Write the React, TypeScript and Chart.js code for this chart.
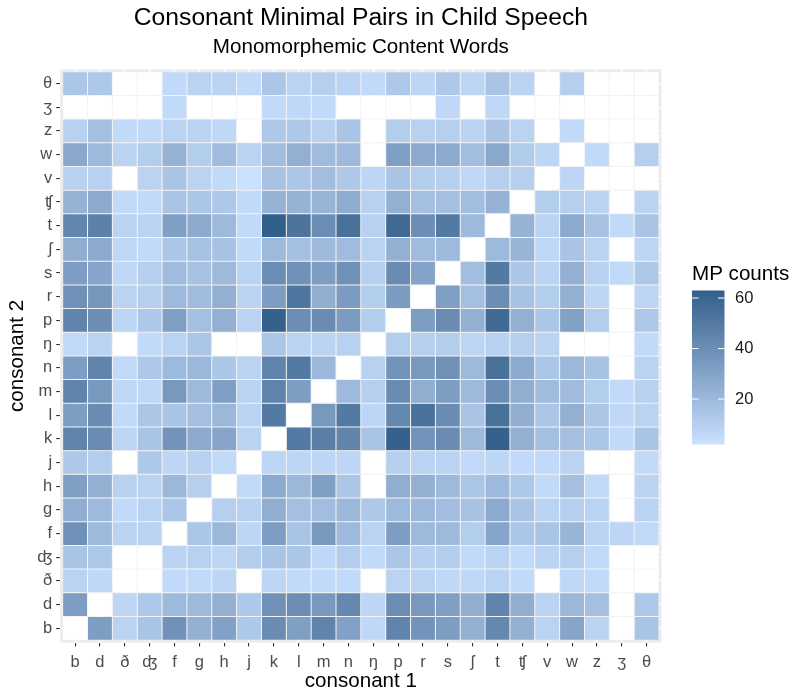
import React, { useEffect, useRef } from "react";
import { Chart, registerables } from "chart.js";

Chart.register(...registerables);

// Consonant order (consonant 1 on x, consonant 2 on y, bottom to top)
const consonants = ["b", "d", "ð", "ʤ", "f", "g", "h", "j", "k", "l", "m", "n", "ŋ", "p", "r", "s", "ʃ", "t", "ʧ", "v", "w", "z", "ʒ", "θ"];

const TITLE = "Consonant Minimal Pairs in Child Speech";
const SUBTITLE = "Monomorphemic Content Words";
const X_TITLE = "consonant 1";
const Y_TITLE = "consonant 2";
const LEGEND_TITLE = "MP counts";
const legendTicks = [20, 40, 60];

// One array per consonant 2 (row); values follow the consonant 1 order above. null = no pairs
const row_b = [null, 33, 8, 15, 38, 24, 31, 13, 41, 32, 45, 31, 6, 45, 37, 33, 24, 43, 24, 8, 29, 8, null, 15];
const row_d = [33, null, 7, 13, 20, 20, 24, 13, 38, 40, 35, 43, 7, 40, 35, 32, 25, 45, 25, 8, 21, 17, null, 13];
const row_dh = [8, 6, null, null, 5, 5, 7, null, 7, 5, 5, 5, null, 8, 8, 6, 6, 8, 5, null, 6, 5, null, null];
const row_dzh = [15, 13, null, null, 8, 9, 7, 11, 15, 14, 6, 11, 5, 14, 10, 11, 5, 8, 5, 8, 10, 5, null, null];
const row_f = [39, 20, 8, 8, null, 14, 21, 7, 33, 15, 35, 20, 8, 33, 20, 20, 11, 29, 14, 15, 22, 8, 7, 5];
const row_g = [25, 20, 5, 8, 14, null, 10, 9, 25, 17, 18, 21, 13, 20, 21, 18, 16, 27, 15, 8, 10, 8, null, 8];
const row_h = [32, 24, 9, 8, 21, 10, null, 5, 27, 21, 32, 14, null, 25, 24, 20, 14, 20, 13, 5, 17, 5, null, 8];
const row_j = [13, 11, null, 13, 7, 9, 5, null, 7, 7, 7, 7, null, 10, 8, 8, 5, 7, 5, 5, 8, null, null, 5];
const row_k = [45, 41, 7, 15, 37, 27, 29, 8, null, 50, 47, 45, 15, 62, 37, 41, 20, 62, 24, 17, 17, 14, 5, 15];
const row_l = [33, 41, 5, 14, 15, 17, 21, 8, 50, null, 35, 50, 7, 43, 54, 41, 15, 54, 25, 14, 24, 14, 6, 8];
const row_m = [45, 35, 6, 6, 35, 20, 32, 8, 45, 33, null, 20, 10, 41, 25, 33, 20, 40, 25, 19, 19, 11, 5, 9];
const row_n = [33, 45, 5, 13, 20, 21, 14, 8, 45, 50, 21, null, 9, 37, 35, 39, 20, 54, 27, 14, 21, 16, null, 8];
const row_ng = [5, 8, null, 5, 8, 14, null, null, 14, 8, 8, 9, null, 11, 10, 11, 7, 9, 10, 8, null, null, null, 5];
const row_p = [45, 40, 7, 13, 32, 17, 24, 8, 62, 40, 41, 34, 11, null, 33, 41, 24, 58, 24, 14, 31, 11, null, 13];
const row_r = [39, 36, 8, 10, 20, 19, 24, 8, 33, 52, 25, 34, 11, 34, null, 32, 17, 40, 16, 11, 24, 7, null, 7];
const row_s = [33, 29, 6, 10, 19, 16, 20, 8, 40, 39, 33, 38, 10, 41, 30, null, 18, 50, 14, 8, 24, 9, 5, 13];
const row_sh = [25, 27, 6, 5, 14, 16, 16, 5, 20, 17, 20, 19, 8, 24, 19, 20, null, 20, 22, 6, 15, 8, null, 7];
const row_t = [44, 46, 8, 8, 32, 27, 20, 5, 63, 53, 40, 54, 9, 58, 40, 50, 20, null, 23, 8, 27, 16, 5, 15];
const row_tsh = [23, 27, 5, 5, 15, 14, 13, 5, 23, 23, 22, 26, 9, 24, 17, 17, 18, 23, null, 11, 10, 8, null, 8];
const row_v = [9, 9, null, 8, 15, 8, 5, 2, 16, 14, 18, 13, 7, 15, 11, 10, 6, 10, 10, null, 7, null, null, null];
const row_w = [28, 20, 8, 11, 23, 11, 19, 8, 18, 24, 19, 20, null, 32, 27, 27, 18, 28, 12, 7, null, 5, null, 10];
const row_z = [9, 17, 5, 5, 8, 8, 6, null, 13, 13, 9, 15, null, 11, 9, 10, 8, 15, 8, null, 5, null, null, null];
const row_zh = [null, null, null, null, 5, null, null, null, 5, 6, 5, null, null, null, null, 6, null, 6, null, null, null, null, null, null];
const row_th = [14, 13, null, null, 5, 8, 8, 5, 14, 8, 10, 8, 5, 13, 7, 13, 7, 15, 8, null, 10, null, null, null];

const rows = [row_b, row_d, row_dh, row_dzh, row_f, row_g, row_h, row_j, row_k, row_l, row_m, row_n, row_ng, row_p, row_r, row_s, row_sh, row_t, row_tsh, row_v, row_w, row_z, row_zh, row_th];

const LOW = "#cae1ff";
const HIGH = "#31608a";
const FONT = "'Liberation Sans', Arial, Helvetica, sans-serif";

// --- colour helpers (Lab interpolation like ggplot2) ---
function hexToRgb(h: string) {
  return [parseInt(h.slice(1, 3), 16), parseInt(h.slice(3, 5), 16), parseInt(h.slice(5, 7), 16)];
}
function toLin(c: number) {
  c /= 255;
  return c <= 0.04045 ? c / 12.92 : Math.pow((c + 0.055) / 1.055, 2.4);
}
function fromLin(c: number) {
  const v = c <= 0.0031308 ? 12.92 * c : 1.055 * Math.pow(c, 1 / 2.4) - 0.055;
  return Math.round(Math.max(0, Math.min(1, v)) * 255);
}
function rgbToLab(rgb: number[]) {
  const R = toLin(rgb[0]), G = toLin(rgb[1]), B = toLin(rgb[2]);
  const X = (0.4124 * R + 0.3576 * G + 0.1805 * B) / 0.95047;
  const Y = 0.2126 * R + 0.7152 * G + 0.0722 * B;
  const Z = (0.0193 * R + 0.1192 * G + 0.9505 * B) / 1.08883;
  const f = (t: number) => (t > 0.008856 ? Math.cbrt(t) : 7.787 * t + 16 / 116);
  const fx = f(X), fy = f(Y), fz = f(Z);
  return [116 * fy - 16, 500 * (fx - fy), 200 * (fy - fz)];
}
function labToHex(lab: number[]) {
  const fy = (lab[0] + 16) / 116;
  const fx = fy + lab[1] / 500;
  const fz = fy - lab[2] / 200;
  const finv = (t: number) => (t * t * t > 0.008856 ? t * t * t : (t - 16 / 116) / 7.787);
  const X = finv(fx) * 0.95047, Y = finv(fy), Z = finv(fz) * 1.08883;
  const r = fromLin(3.2406 * X - 1.5372 * Y - 0.4986 * Z);
  const g = fromLin(-0.9689 * X + 1.8758 * Y + 0.0415 * Z);
  const b = fromLin(0.0557 * X - 0.204 * Y + 1.057 * Z);
  return "#" + [r, g, b].map((v) => v.toString(16).padStart(2, "0")).join("");
}
const LAB_LOW = rgbToLab(hexToRgb(LOW));
const LAB_HIGH = rgbToLab(hexToRgb(HIGH));
function colorAt(t: number) {
  const c = Math.max(0, Math.min(1, t));
  return labToHex([0, 1, 2].map((i) => LAB_LOW[i] + (LAB_HIGH[i] - LAB_LOW[i]) * c));
}

export default function App() {
  const canvasRef = useRef<HTMLCanvasElement | null>(null);

  useEffect(() => {
    document.body.style.margin = "0";
    const canvas = canvasRef.current;
    if (!canvas) return;

    const allValues = rows.flat().filter((v) => v != null) as number[];
    const vmin = Math.min(...allValues);
    const vmax = Math.max(...allValues);
    const fillFor = (v: number | null) => (v == null ? "#ffffff" : colorAt((v - vmin) / (vmax - vmin)));

    const datasets = rows.map((row, ri) => ({
      label: consonants[ri],
      data: row.map((_, ci) => ({ x: ci, y: [ri - 0.5, ri + 0.5] })),
      backgroundColor: row.map((v) => fillFor(v)),
      borderColor: "rgba(255,255,255,0.9)",
      borderWidth: 0.5,
      borderSkipped: false as const,
      grouped: false,
      barPercentage: 1,
      categoryPercentage: 1,
      inflateAmount: 0,
    }));

    const panelBg = {
      id: "panelBg",
      beforeDraw(chart: any) {
        const { ctx, chartArea } = chart;
        ctx.save();
        ctx.fillStyle = "#ebebeb";
        ctx.fillRect(chartArea.left, chartArea.top, chartArea.right - chartArea.left, chartArea.bottom - chartArea.top);
        ctx.restore();
      },
    };

    const colorbar = {
      id: "colorbar",
      afterDraw(chart: any) {
        const ctx = chart.ctx as CanvasRenderingContext2D;
        const x0 = 692, x1 = 724.5, yTop = 290.5, yBot = 444.5;
        ctx.save();
        const grad = ctx.createLinearGradient(0, yBot, 0, yTop);
        for (let i = 0; i <= 30; i++) grad.addColorStop(i / 30, colorAt(i / 30));
        ctx.fillStyle = grad;
        ctx.fillRect(x0, yTop, x1 - x0, yBot - yTop);
        ctx.strokeStyle = "#ffffff";
        ctx.lineWidth = 1;
        ctx.font = `16.5px ${FONT}`;
        ctx.textAlign = "left";
        ctx.textBaseline = "middle";
        for (const v of legendTicks) {
          const y = yBot - ((v - vmin) / (vmax - vmin)) * (yBot - yTop);
          ctx.beginPath();
          ctx.moveTo(x0, y);
          ctx.lineTo(x0 + 6.5, y);
          ctx.moveTo(x1 - 6.5, y);
          ctx.lineTo(x1, y);
          ctx.stroke();
          ctx.fillStyle = "#1a1a1a";
          ctx.fillText(String(v), 735, y);
        }
        ctx.fillStyle = "#000000";
        ctx.font = `20.6px ${FONT}`;
        ctx.textBaseline = "alphabetic";
        ctx.fillText(LEGEND_TITLE, 692, 279.5);
        ctx.restore();
      },
    };

    const tickFont = { family: FONT, size: 16.5 };
    const axisCommon = (isX: boolean) => ({
      type: "linear" as const,
      min: -0.6,
      max: 23.6,
      offset: false,
      beginAtZero: false,
      afterBuildTicks: (s: any) => {
        s.ticks = consonants.map((_, i) => ({ value: i }));
      },
      afterFit: (s: any) => {
        if (isX) {
          s.height = 53.5;
          s.paddingLeft = 0;
          s.paddingRight = 0;
        } else {
          s.width = 60.2;
          s.paddingTop = 0;
          s.paddingBottom = 0;
        }
      },
      ticks: {
        autoSkip: false,
        maxRotation: 0,
        minRotation: 0,
        padding: isX ? 6 : 4,
        color: "#4d4d4d",
        font: tickFont,
        callback: (v: any) => consonants[Math.round(Number(v))] ?? "",
      },
      grid: {
        display: true,
        drawOnChartArea: true,
        drawTicks: true,
        offset: false,
        color: "#ffffff",
        lineWidth: 1.1,
        tickLength: 4,
        tickColor: "#333333",
        tickWidth: 1.1,
      },
      border: { display: false },
      title: {
        display: true,
        text: isX ? X_TITLE : Y_TITLE,
        color: "#000000",
        font: { family: FONT, size: 20.6 },
        padding: isX ? { top: 0, bottom: 2.8 } : { top: 5.4, bottom: 0 },
      },
    });

    const chart = new Chart(canvas, {
      type: "bar",
      data: { datasets: datasets as any },
      options: {
        responsive: false,
        animation: false,
        devicePixelRatio: 1,
        layout: { padding: { left: 0, right: 132.5, top: 0, bottom: 0 } },
        plugins: {
          legend: { display: false },
          tooltip: { enabled: false },
          title: {
            display: true,
            text: TITLE,
            color: "#000000",
            fullSize: false,
            font: { family: FONT, size: 24.7, weight: "normal" as any },
            padding: { top: 3.2, bottom: 0 },
          },
          subtitle: {
            display: true,
            text: SUBTITLE,
            color: "#000000",
            fullSize: false,
            font: { family: FONT, size: 20.6, weight: "normal" as any },
            padding: { top: 1.8, bottom: 10 },
          },
        },
        scales: {
          x: axisCommon(true) as any,
          y: axisCommon(false) as any,
        },
      },
      plugins: [panelBg, colorbar],
    });

    return () => chart.destroy();
  }, []);

  return (
    <div style={{ position: "absolute", left: 0, top: 0, width: 794, height: 696, background: "#ffffff" }}>
      <canvas ref={canvasRef} width={794} height={696} style={{ display: "block", width: 794, height: 696 }} />
    </div>
  );
}
